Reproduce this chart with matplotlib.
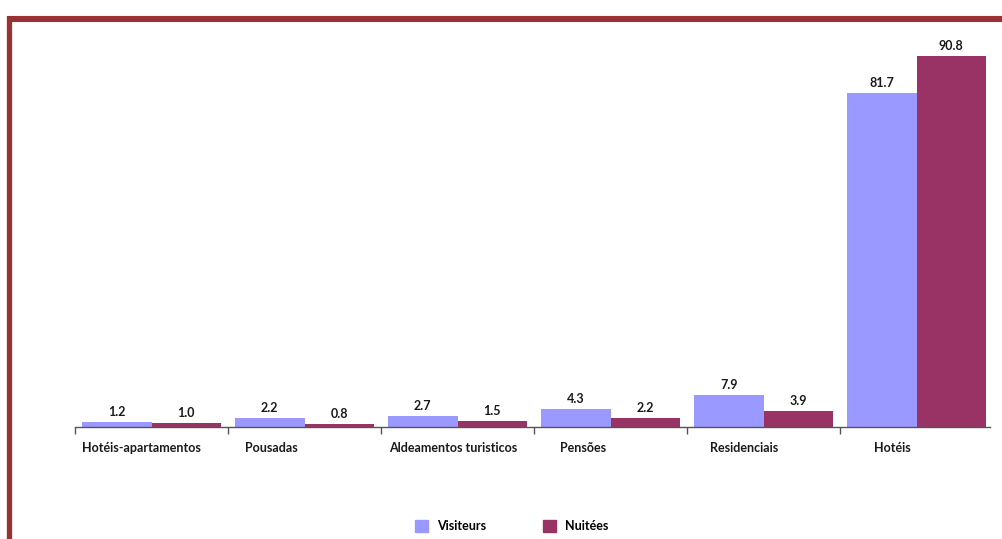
import matplotlib
matplotlib.use("Agg")
import matplotlib.pyplot as plt
from matplotlib.lines import Line2D
from matplotlib.patches import Patch
import numpy as np

categories = ["Hotéis-apartamentos", "Pousadas", "Aldeamentos turisticos",
              "Pensões", "Residenciais", "Hotéis"]
visiteurs = [1.2, 2.2, 2.7, 4.3, 7.9, 81.7]
nuitees = [1.0, 0.8, 1.5, 2.2, 3.9, 90.8]
series_names = ["Visiteurs", "Nuitées"]

# label offsets (in category units) to mimic the original's loose placement
label_shift = [-0.065, -0.216, -0.026, -0.18, -0.13, -0.16]

c_vis = "#9999FF"
c_nui = "#993366"
c_frame = "#993333"

plt.rcParams["font.family"] = ["Lato", "DejaVu Sans"]

fig = plt.figure(figsize=(10.03, 5.39), dpi=100)
ax = fig.add_axes([75 / 1003, 112 / 539, 915 / 1003, 408.6 / 539])

x = np.arange(len(categories))
w = 0.455
b1 = ax.bar(x - w / 2, visiteurs, w, color=c_vis)
b2 = ax.bar(x + w / 2, nuitees, w, color=c_nui)
for bars, vals in ((b1, visiteurs), (b2, nuitees)):
    for bar, v in zip(bars, vals):
        ax.annotate(f"{v:.1f}", (bar.get_x() + bar.get_width() / 2, v),
                    xytext=(0, 3), textcoords="offset points",
                    ha="center", va="bottom", fontsize=9, fontweight="bold",
                    color="#1a1a1a")

for i, (name, s) in enumerate(zip(categories, label_shift)):
    ax.annotate(name, (i + s, 0), xytext=(0, -11), textcoords="offset points",
                ha="center", va="top", fontsize=9, fontweight="bold",
                color="#1a1a1a", annotation_clip=False)

ax.set_xlim(-0.5, len(categories) - 0.52)
ax.set_ylim(0, 100)
ax.set_xticks(np.arange(len(categories)) - 0.5)
ax.set_xticklabels([])
ax.tick_params(axis="x", length=5, width=1, color="#555555", direction="out")
ax.set_yticks([])
for side in ("top", "right", "left"):
    ax.spines[side].set_visible(False)
ax.spines["bottom"].set_color("#555555")
ax.spines["bottom"].set_linewidth(1)

handles = [Patch(color=c_vis), Patch(color=c_nui)]
fig.legend(handles, series_names, loc="center", bbox_to_anchor=(0.51, 0.024),
           ncol=2, frameon=False, handlelength=1.1, handleheight=1.1,
           columnspacing=4.5, handletextpad=0.7,
           prop={"size": 9, "weight": "bold"})

# dark red frame along top and left edges
fig.add_artist(Line2D([7 / 1003, 1.0], [1 - 19 / 539] * 2, color=c_frame,
                      lw=4.4, solid_capstyle="butt", transform=fig.transFigure))
fig.add_artist(Line2D([9.5 / 1003] * 2, [0, 1 - 16 / 539], color=c_frame,
                      lw=3.8, solid_capstyle="butt", transform=fig.transFigure))

fig.savefig("out.png", dpi=100)
